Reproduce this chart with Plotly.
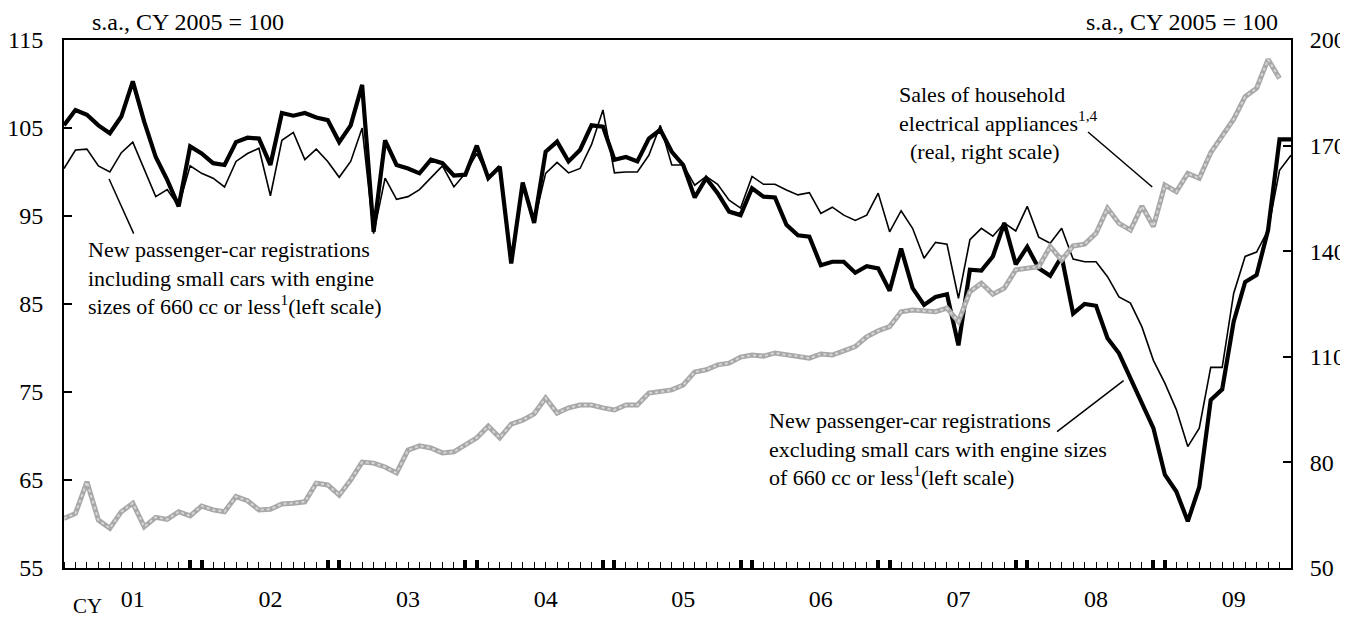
import plotly.graph_objects as go

# ---- data (monthly, Jan 2001 onward) ----
excl_small = [105.3, 107.05, 106.5, 105.3, 104.4, 106.3, 110.3, 105.7, 101.7, 99.1,
              96.1, 102.9, 102.1, 101.0, 100.8, 103.4, 103.9, 103.8, 100.8, 106.7,
              106.4, 106.7, 106.2, 105.9, 103.4, 105.3, 109.9, 93.2, 103.6, 100.8,
              100.4, 99.85, 101.4, 101.0, 99.6, 99.7, 103.0, 99.3, 100.6, 89.6,
              98.8, 94.2, 102.3, 103.45, 101.2, 102.5, 105.3, 105.15, 101.4, 101.7,
              101.2, 103.8, 104.8, 102.3, 100.8, 97.1, 99.3, 97.6, 95.5, 95.1,
              98.15, 97.2, 97.1, 94.0, 92.8, 92.65, 89.4, 89.8, 89.8, 88.55,
              89.3, 89.05, 86.5, 91.3, 86.8, 84.9, 85.8, 86.1, 80.3, 88.9,
              88.8, 90.4, 94.2, 89.5, 91.5, 89.05, 88.2, 90.4, 83.9, 85.0,
              84.8, 81.1, 79.4, 76.6, 73.9, 70.9, 65.6, 63.7, 60.3, 64.2,
              74.1, 75.3, 83.0, 87.5, 88.3, 93.4, 103.7, 103.7]

incl_small = [100.4, 102.5, 102.6, 100.7, 100.0, 102.2, 103.4, 100.4, 97.2, 98.0,
              96.1, 100.7, 99.85, 99.3, 98.3, 101.2, 102.1, 102.7, 97.3, 103.6,
              104.5, 101.4, 102.6, 101.2, 99.4, 101.2, 105.0, 93.0, 99.3, 96.9,
              97.2, 98.0, 99.4, 100.7, 98.3, 99.85, 102.1, 99.5, 100.6, 89.8,
              98.7, 94.3, 99.85, 101.1, 99.9, 100.4, 103.1, 107.05, 99.9, 100.0,
              100.0, 101.9, 105.3, 100.8, 100.8, 98.5, 99.5, 98.6, 96.8, 95.9,
              99.5, 98.6, 98.6, 97.95, 97.4, 97.65, 95.3, 96.0, 95.1, 94.5,
              95.1, 97.6, 93.2, 95.6, 93.6, 90.2, 92.0, 91.8, 85.65, 92.3,
              93.6, 92.7, 94.2, 93.3, 96.1, 92.6, 91.9, 93.6, 90.1, 89.8,
              89.8, 88.1, 85.8, 85.1, 82.4, 78.6, 76.0, 73.0, 68.8, 70.9,
              77.8, 77.8, 86.2, 90.4, 90.9, 93.4, 100.2, 101.9]

appliances = [64.1, 65.5, 74.5, 63.6, 61.3, 66.0, 68.4, 61.7, 64.4, 63.8,
              66.0, 64.8, 67.6, 66.5, 66.0, 70.3, 69.1, 66.5, 66.7, 68.2,
              68.4, 68.8, 74.1, 73.6, 70.7, 75.0, 80.1, 79.8, 78.7, 77.0,
              83.5, 84.7, 84.1, 82.7, 83.0, 85.0, 87.0, 90.3, 87.0, 90.9,
              92.0, 93.8, 98.3, 94.0, 95.5, 96.3, 96.3, 95.5, 94.9, 96.3,
              96.3, 99.7, 100.0, 100.6, 102.0, 105.7, 106.3, 107.7, 108.2, 109.9,
              110.5, 110.2, 111.1, 110.5, 110.2, 109.6, 110.8, 110.5, 111.7, 112.9,
              115.7, 117.4, 118.6, 122.8, 123.3, 123.1, 122.8, 123.8, 120.0, 128.5,
              130.9, 127.8, 129.5, 134.7, 135.1, 135.6, 141.3, 137.5, 141.5, 142.0,
              145.1, 152.2, 147.9, 146.0, 152.8, 147.0, 158.8, 156.9, 162.1, 160.7,
              168.0, 172.5, 177.5, 183.9, 186.3, 194.5, 189.1]

year_labels = ["01", "02", "03", "04", "05", "06", "07", "08", "09"]
left_ticks = [55, 65, 75, 85, 95, 105, 115]
right_ticks = [50, 80, 110, 140, 170, 200]

# month index positions
x_cars = list(range(len(excl_small)))
x_app = list(range(len(appliances)))
n_months = len(excl_small) - 1
year_centers = [6 + 12 * k for k in range(len(year_labels))]
year_bounds = []
for k in range(1, len(year_labels)):
    year_bounds += [12 * k - 1, 12 * k]

FONT = "Liberation Serif, Times New Roman, serif"

fig = go.Figure()
fig.add_trace(go.Scatter(x=x_app, y=appliances, yaxis="y2", mode="lines",
                         line=dict(color="#a8a8a8", width=5), showlegend=False))
fig.add_trace(go.Scatter(x=x_app, y=appliances, yaxis="y2", mode="lines",
                         line=dict(color="#d6d6d6", width=2, dash="dot"), showlegend=False))
fig.add_trace(go.Scatter(x=x_cars, y=incl_small, mode="lines",
                         line=dict(color="black", width=1.6), showlegend=False))
fig.add_trace(go.Scatter(x=x_cars, y=excl_small, mode="lines",
                         line=dict(color="black", width=4.2), showlegend=False))
# invisible trace to activate the year-boundary tick axis
fig.add_trace(go.Scatter(x=[0], y=[None], xaxis="x2", mode="lines", showlegend=False,
                         hoverinfo="skip"))

# the page body adds an 8px margin, so the figure is sized to fit the window
fig.update_layout(
    width=1340, height=611, autosize=False,
    margin=dict(l=56, r=57, t=32, b=51, pad=0),
    paper_bgcolor="white", plot_bgcolor="white",
    font=dict(family=FONT, size=24, color="black"),
    xaxis=dict(range=[0, n_months], tickvals=year_centers, ticktext=year_labels,
               ticks="", showgrid=False, zeroline=False, automargin=False,
               showline=True, linecolor="black", linewidth=2, mirror=True,
               ticklabelstandoff=8,
               tickfont=dict(family=FONT, size=24),
               minor=dict(ticks="inside", dtick=1, tick0=0, ticklen=6,
                          tickwidth=1.2, tickcolor="black", showgrid=False)),
    xaxis2=dict(range=[0, n_months], overlaying="x", anchor="y", side="bottom",
                tickvals=year_bounds, ticks="inside", ticklen=8, tickwidth=3.5,
                tickcolor="black", showticklabels=False, showgrid=False,
                zeroline=False, showline=False, automargin=False),
    yaxis=dict(range=[55, 115], tickvals=left_ticks, ticks="inside", ticklen=8,
               tickwidth=2, tickcolor="black", showgrid=False, zeroline=False,
               showline=True, linecolor="black", linewidth=2, automargin=False,
               ticklabelstandoff=14, tickfont=dict(family=FONT, size=24)),
    yaxis2=dict(range=[50, 200], tickvals=right_ticks, overlaying="y", side="right",
                ticks="inside", ticklen=8, tickwidth=2, tickcolor="black",
                showgrid=False, zeroline=False, showline=True, linecolor="black",
                linewidth=2, automargin=False, ticklabelstandoff=12,
                tickfont=dict(family=FONT, size=24)),
)

ann_font = dict(family=FONT, size=22, color="black")
annotations = [
    dict(text="s.a., CY 2005 = 100", xref="paper", yref="paper", x=0.021, y=1.034,
         xanchor="left", yanchor="middle", showarrow=False, font=dict(family=FONT, size=24)),
    dict(text="s.a., CY 2005 = 100", xref="paper", yref="paper", x=0.991, y=1.034,
         xanchor="right", yanchor="middle", showarrow=False, font=dict(family=FONT, size=24)),
    dict(text="CY", xref="x", yref="paper", x=2.07, y=-0.072, xanchor="center",
         yanchor="middle", showarrow=False, font=dict(family=FONT, size=21)),
    dict(text="New passenger-car registrations<br>including small cars with engine<br>"
              "sizes of 660 cc or less<sup>1</sup>(left scale)",
         xref="x", yref="y", x=1.95, y=88.0, xanchor="left", yanchor="middle",
         align="left", showarrow=False, font=ann_font),
    dict(text="Sales of household<br>electrical appliances<sup>1,4</sup><br>"
              "\u00a0\u00a0(real, right scale)",
         xref="x", yref="y", x=72.6, y=105.6, xanchor="left", yanchor="middle",
         align="left", showarrow=False, font=ann_font),
    dict(text="New passenger-car registrations<br>excluding small cars with engine sizes<br>"
              "of 660 cc or less<sup>1</sup>(left scale)",
         xref="x", yref="y", x=61.3, y=68.5, xanchor="left", yanchor="middle",
         align="left", showarrow=False, font=ann_font),
]
fig.update_layout(annotations=annotations)

leaders = [((3.93, 99.2), (6.08, 93.0)),
           ((89.3, 104.55), (94.9, 98.3)),
           ((86.6, 70.5), (92.4, 76.3))]
for (x0, y0), (x1, y1) in leaders:
    fig.add_shape(type="line", xref="x", yref="y", x0=x0, y0=y0, x1=x1, y1=y1,
                  line=dict(color="black", width=1.5))

fig.write_html("out.html")
